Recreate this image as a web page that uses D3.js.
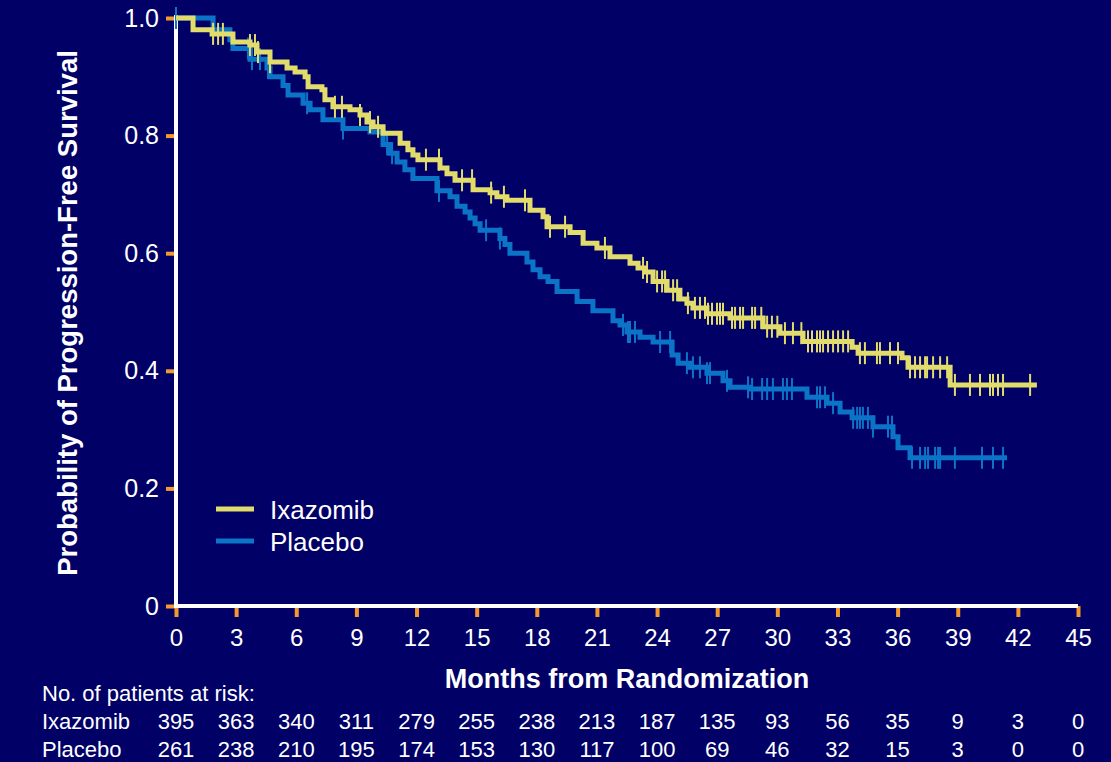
<!DOCTYPE html>
<html>
<head>
<meta charset="utf-8">
<script src="https://cdn.jsdelivr.net/npm/d3@7"></script>
<style>
  html, body { margin: 0; padding: 0; background: #000066; }
  svg { display: block; }
  text { font-family: "Liberation Sans", Arial, Helvetica, sans-serif; fill: #ffffff; }
</style>
</head>
<body>
<svg id="chart" width="1111" height="762"></svg>
<script>
// Kaplan–Meier progression-free survival, ixazomib vs placebo.
// Each step: [month, survival probability after the event].
const ixazomibSteps = [
  [0.85, 0.980], [1.80, 0.973], [2.84, 0.959], [3.69, 0.954], [4.04, 0.942],
  [4.69, 0.925], [5.54, 0.915], [5.94, 0.908], [6.44, 0.900], [6.59, 0.883],
  [7.28, 0.878], [7.43, 0.861], [7.83, 0.849], [8.68, 0.844], [9.18, 0.835],
  [9.53, 0.823], [9.83, 0.815], [10.33, 0.804], [11.18, 0.787], [11.57, 0.776],
  [11.82, 0.767], [12.07, 0.759], [13.17, 0.745], [13.52, 0.735], [13.92, 0.724],
  [14.82, 0.708], [15.67, 0.703], [16.01, 0.696], [16.51, 0.690], [17.66, 0.673],
  [18.31, 0.662], [18.51, 0.645], [19.66, 0.635], [20.31, 0.617], [21.00, 0.609],
  [21.65, 0.594], [22.65, 0.583], [23.05, 0.575], [23.40, 0.568], [23.80, 0.552],
  [24.50, 0.537], [25.14, 0.522], [25.49, 0.515], [25.79, 0.507], [26.49, 0.497],
  [27.64, 0.490], [29.29, 0.475], [30.13, 0.464], [31.28, 0.450], [33.73, 0.440],
  [34.03, 0.430], [36.22, 0.422], [36.52, 0.406], [38.62, 0.376]
];
const ixazomibEnd = 42.95;
const ixazomibCensored = [
  1.85, 2.10, 2.34, 3.69, 3.94, 4.09, 4.69, 7.93, 8.28, 9.18, 9.68, 10.08,
  12.47, 13.12, 14.27, 14.77, 15.72, 16.36, 17.41, 18.66, 19.41, 21.40,
  23.30, 23.50, 24.00, 24.25, 24.40, 24.80, 25.00, 25.54, 25.89, 26.14, 26.39,
  26.54, 26.74, 26.99, 27.14, 27.29, 27.74, 27.89, 28.14, 28.29, 28.74, 28.89,
  29.20, 29.49, 29.73, 30.00, 30.38, 30.78, 31.20, 31.53, 31.73, 31.98, 32.13,
  32.28, 32.53, 32.78, 33.03, 33.28, 33.53, 34.12, 34.37, 34.97, 35.12, 35.62,
  36.02, 36.62, 36.87, 37.12, 37.37, 37.47, 37.77, 38.12, 38.47, 38.86, 39.61,
  40.11, 40.61, 40.76, 41.01, 41.26, 42.61
];

const placeboSteps = [
  [1.85, 0.980], [2.69, 0.963], [2.84, 0.948], [3.69, 0.930], [4.54, 0.915],
  [4.69, 0.900], [5.34, 0.885], [5.59, 0.869], [6.34, 0.855], [6.69, 0.844],
  [7.33, 0.827], [8.33, 0.812], [9.68, 0.806], [10.33, 0.785], [10.68, 0.770],
  [11.03, 0.755], [11.42, 0.742], [11.82, 0.727], [13.02, 0.706], [13.67, 0.696],
  [14.02, 0.680], [14.42, 0.670], [14.67, 0.660], [14.92, 0.650], [15.17, 0.639],
  [16.16, 0.625], [16.41, 0.615], [16.66, 0.600], [17.51, 0.585], [17.81, 0.572],
  [18.16, 0.560], [18.56, 0.552], [19.01, 0.535], [20.01, 0.518], [20.80, 0.502],
  [21.80, 0.485], [22.15, 0.478], [22.50, 0.466], [23.15, 0.457], [23.80, 0.449],
  [24.75, 0.427], [25.05, 0.413], [25.64, 0.406], [26.49, 0.396], [27.29, 0.383],
  [27.64, 0.372], [28.64, 0.369], [31.48, 0.355], [32.48, 0.345], [33.13, 0.330],
  [33.73, 0.320], [34.77, 0.305], [35.77, 0.288], [36.02, 0.269], [36.62, 0.252]
];
const placeboEnd = 41.46;
const placeboCensored = [
  0.00, 1.85, 3.59, 3.79, 4.19, 4.59, 6.54, 8.33, 10.53, 10.78, 13.12, 15.47,
  16.16, 22.30, 22.55, 22.65, 22.90, 24.15, 24.65, 25.49, 25.79, 26.14, 26.49,
  26.64, 27.49, 28.54, 28.74, 29.24, 29.49, 29.78, 30.28, 30.48, 30.73, 31.98,
  32.13, 32.38, 32.78, 33.78, 33.98, 34.12, 34.27, 34.52, 34.77, 35.52, 35.72,
  36.72, 37.12, 37.37, 37.52, 37.87, 38.02, 38.12, 38.86, 40.21, 40.76, 41.26
];

const monthTicks = d3.range(0, 46, 3);
const probTicks = [0, 0.2, 0.4, 0.6, 0.8, 1.0];

const riskIxazomib = [395, 363, 340, 311, 279, 255, 238, 213, 187, 135, 93, 56, 35, 9, 3, 0];
const riskPlacebo  = [261, 238, 210, 195, 174, 153, 130, 117, 100, 69, 46, 32, 15, 3, 0, 0];

const seriesNames = ["Ixazomib", "Placebo"];

// ---- layout ----
const svg = d3.select("#chart");
const W = 1111, H = 762;
const colors = { ixazomib: "#E1DC6B", placebo: "#0B74C6", tick: "#F29A2E", axis: "#FFFFFF" };

svg.append("rect").attr("width", W).attr("height", H).attr("fill", "#000066");

const x = d3.scaleLinear().domain([0, 45]).range([176, 1078]);
const y = d3.scaleLinear().domain([0, 1]).range([606, 18]);

// ---- axes ----
const yAxis = d3.axisLeft(y)
  .tickValues(probTicks)
  .tickSizeInner(10).tickSizeOuter(0).tickPadding(7)
  .tickFormat(d => d === 0 ? "0" : d3.format(".1f")(d));

const xAxis = d3.axisBottom(x)
  .tickValues(monthTicks)
  .tickSizeInner(11).tickSizeOuter(0).tickPadding(12)
  .tickFormat(d3.format("d"));

const gy = svg.append("g").attr("transform", "translate(176,0)").call(yAxis);
const gx = svg.append("g").attr("transform", "translate(0,606)").call(xAxis);

[gx, gy].forEach(g => {
  g.select(".domain").remove();
  g.selectAll(".tick line").attr("stroke", colors.tick).attr("stroke-width", 4);
  g.selectAll(".tick text")
    .attr("fill", "#fff")
    .style("font-family", "'Liberation Sans', Arial, sans-serif");
});
gy.selectAll(".tick text").style("font-size", "25px");
gx.selectAll(".tick text").style("font-size", "24px");

// white axis lines
svg.append("line")
  .attr("x1", x(0)).attr("x2", x(0))
  .attr("y1", y(1) - 3).attr("y2", y(0) + 1)
  .attr("stroke", colors.axis).attr("stroke-width", 4);
svg.append("line")
  .attr("x1", x(0) - 2).attr("x2", x(45))
  .attr("y1", y(0)).attr("y2", y(0))
  .attr("stroke", colors.axis).attr("stroke-width", 4);

// ---- survival curves ----
function stepPoints(steps, end) {
  const pts = [[0, 1]];
  steps.forEach(s => pts.push(s));
  pts.push([end, steps[steps.length - 1][1]]);
  return pts;
}
function survivalAt(steps, t) {
  let s = 1;
  for (const [tt, v] of steps) { if (tt <= t) s = v; else break; }
  return s;
}

const line = d3.line()
  .x(d => x(d[0]))
  .y(d => y(d[1]))
  .curve(d3.curveStepAfter);

const groups = [
  { steps: ixazomibSteps, end: ixazomibEnd, cens: ixazomibCensored, color: colors.ixazomib },
  { steps: placeboSteps, end: placeboEnd, cens: placeboCensored, color: colors.placebo }
];

// placebo underneath, ixazomib on top
[groups[1], groups[0]].forEach(g => {
  const gg = svg.append("g");
  gg.append("path")
    .datum(stepPoints(g.steps, g.end))
    .attr("d", line)
    .attr("fill", "none")
    .attr("stroke", g.color)
    .attr("stroke-width", 5)
    .attr("stroke-linejoin", "miter");
  gg.selectAll("line.cens")
    .data(g.cens)
    .join("line")
    .attr("class", "cens")
    .attr("x1", d => x(d)).attr("x2", d => x(d))
    .attr("y1", d => y(survivalAt(g.steps, d)) - 11)
    .attr("y2", d => y(survivalAt(g.steps, d)) + 11)
    .attr("stroke", g.color)
    .attr("stroke-width", 2);
});

// ---- legend ----
const legend = svg.append("g");
[[seriesNames[0], colors.ixazomib, 509], [seriesNames[1], colors.placebo, 541]].forEach(([name, c, ly]) => {
  legend.append("line")
    .attr("x1", 216).attr("x2", 254).attr("y1", ly).attr("y2", ly)
    .attr("stroke", c).attr("stroke-width", 5);
  legend.append("text")
    .attr("x", 270).attr("y", ly + 10)
    .style("font-size", "26px")
    .text(name);
});

// ---- axis titles ----
svg.append("text")
  .attr("transform", "translate(77,313) rotate(-90)")
  .attr("text-anchor", "middle")
  .style("font-size", "27.5px").style("font-weight", "bold")
  .text("Probability of Progression-Free Survival");

svg.append("text")
  .attr("x", 627).attr("y", 688)
  .attr("text-anchor", "middle")
  .style("font-size", "27px").style("font-weight", "bold")
  .text("Months from Randomization");

// ---- numbers at risk ----
const risk = svg.append("g").style("font-size", "22px");
risk.append("text").attr("x", 42).attr("y", 701).text("No. of patients at risk:");
[[seriesNames[0], riskIxazomib, 729], [seriesNames[1], riskPlacebo, 757]].forEach(([name, vals, ry]) => {
  risk.append("text").attr("x", 42).attr("y", ry).text(name);
  risk.selectAll(null)
    .data(vals)
    .join("text")
    .attr("x", (d, i) => x(monthTicks[i]))
    .attr("y", ry)
    .attr("text-anchor", "middle")
    .text(d => d);
});
</script>
</body>
</html>
